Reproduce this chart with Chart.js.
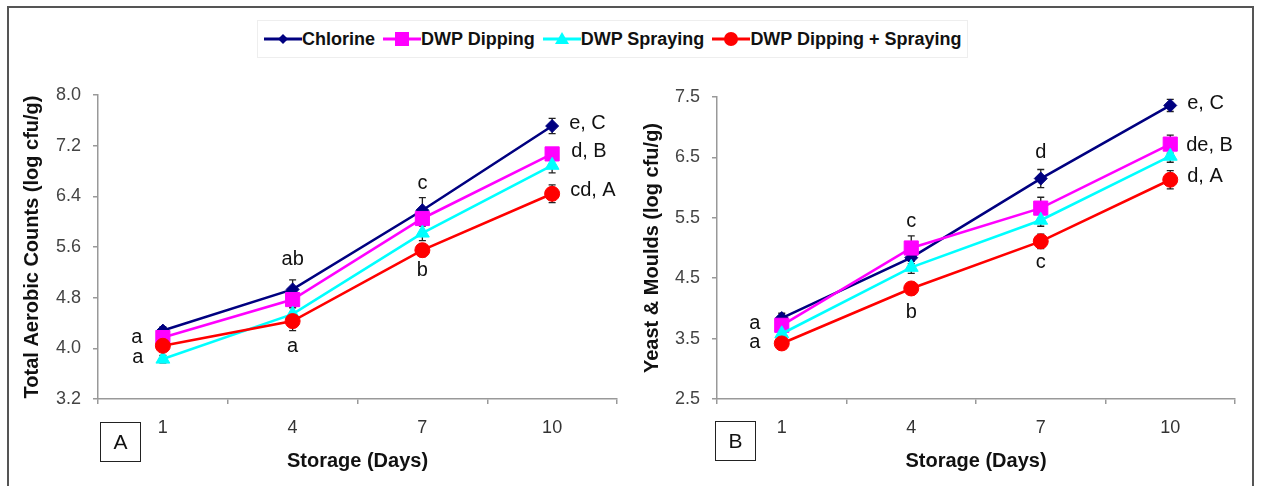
<!DOCTYPE html>
<html>
<head>
<meta charset="utf-8">
<script src="https://cdn.jsdelivr.net/npm/chart.js@4/dist/chart.umd.min.js"></script>
<style>
  body { margin: 0; background: #fff; font-family: "Liberation Sans", Arial, sans-serif; }
  #page { position: relative; width: 1261px; height: 486px; overflow: hidden; background: #fff; }
  #frame { position: absolute; left: 7px; top: 6px; width: 1243px; height: 520px; border: 2px solid #555; }
  #legend { position: absolute; left: 257px; top: 20px; width: 711px; height: 38px; border: 1px solid #eee;
            display: flex; align-items: center; padding-left: 6px; box-sizing: border-box; white-space: nowrap; }
  .item { display: flex; align-items: center; flex-shrink: 0; margin-right: 8px; font-weight: bold; font-size: 18px; color: #111; }
  .item svg { flex-shrink: 0; }
  canvas { position: absolute; }
  .tag { position: absolute; width: 39px; height: 38px; border: 1px solid #222; font-size: 21px; color: #111;
         display: flex; align-items: center; justify-content: center; }
</style>
</head>
<body>
<div id="page">
  <div id="frame"></div>
  <div id="legend"></div>
  <canvas id="chartA" width="620" height="426" style="left:10px;top:60px"></canvas>
  <canvas id="chartB" width="623" height="426" style="left:630px;top:60px"></canvas>
  <div class="tag" style="left:100px;top:422px">A</div>
  <div class="tag" style="left:715px;top:421px">B</div>
</div>
<script>
// categories
const days = ['1', '4', '7', '10'];
const seriesNames = ['Chlorine', 'DWP Dipping', 'DWP Spraying', 'DWP Dipping + Spraying'];
const seriesColors = ['#000080', '#FF00FF', '#00FFFF', '#FF0000'];
const pointStyles = ['rectRot', 'rect', 'triangle', 'circle'];
const pointSizes = [6.5, 10, 8, 7.5];

// A: total aerobic counts (log cfu/g)
const aerobicChlorine = [4.28, 4.93, 6.18, 7.51];
const aerobicDipping = [4.17, 4.77, 6.05, 7.07];
const aerobicSpraying = [3.83, 4.54, 5.82, 6.89];
const aerobicBoth = [4.04, 4.43, 5.55, 6.44];
const aerobicErrChlorine = [0.06, 0.15, 0.2, 0.12];
const aerobicErrDipping = [0.08, 0.12, 0.12, 0.1];
const aerobicErrSpraying = [0.06, 0.1, 0.12, 0.12];
const aerobicErrBoth = [0.08, 0.15, 0.1, 0.14];
const aerobicTicks = [3.2, 4.0, 4.8, 5.6, 6.4, 7.2, 8.0];

// B: yeast & moulds (log cfu/g)
const yeastChlorine = [3.84, 4.84, 6.15, 7.36];
const yeastDipping = [3.72, 5.0, 5.66, 6.72];
const yeastSpraying = [3.58, 4.68, 5.46, 6.52];
const yeastBoth = [3.42, 4.33, 5.11, 6.13];
const yeastErrChlorine = [0.08, 0.1, 0.15, 0.1];
const yeastErrDipping = [0.08, 0.2, 0.18, 0.15];
const yeastErrSpraying = [0.06, 0.1, 0.1, 0.1];
const yeastErrBoth = [0.08, 0.1, 0.12, 0.15];
const yeastTicks = [2.5, 3.5, 4.5, 5.5, 6.5, 7.5];

// significance letters: series index, day index, text, placement
const aerobicNotes = [
  { s: 1, d: 0, text: 'a', dx: -26, dy: 0, align: 'center' },
  { s: 2, d: 0, text: 'a', dx: -25, dy: -2, align: 'center' },
  { s: 0, d: 1, text: 'ab', dx: 0, dy: -30, align: 'center' },
  { s: 3, d: 1, text: 'a', dx: 0, dy: 25, align: 'center' },
  { s: 0, d: 2, text: 'c', dx: 0, dy: -27, align: 'center' },
  { s: 3, d: 2, text: 'b', dx: 0, dy: 20, align: 'center' },
  { s: 0, d: 3, text: 'e, C', dx: 17, dy: -3, align: 'left' },
  { s: 1, d: 3, text: 'd, B', dx: 19, dy: -2, align: 'left' },
  { s: 3, d: 3, text: 'cd, A', dx: 18, dy: -3, align: 'left' }
];
const yeastNotes = [
  { s: 1, d: 0, text: 'a', dx: -27, dy: -2, align: 'center' },
  { s: 3, d: 0, text: 'a', dx: -27, dy: -1, align: 'center' },
  { s: 1, d: 1, text: 'c', dx: 0, dy: -27, align: 'center' },
  { s: 3, d: 1, text: 'b', dx: 0, dy: 24, align: 'center' },
  { s: 0, d: 2, text: 'd', dx: 0, dy: -26, align: 'center' },
  { s: 3, d: 2, text: 'c', dx: 0, dy: 21, align: 'center' },
  { s: 0, d: 3, text: 'e, C', dx: 17, dy: -2, align: 'left' },
  { s: 1, d: 3, text: 'de, B', dx: 16, dy: 1, align: 'left' },
  { s: 3, d: 3, text: 'd, A', dx: 17, dy: -3, align: 'left' }
];

const FONT = '"Liberation Sans", Arial, sans-serif';

// legend (shared by both panels)
function markerSvg(i) {
  const c = seriesColors[i];
  let shape = '';
  if (i === 0) shape = `<polygon points="19,3 24,8 19,13 14,8" fill="${c}"/>`;
  if (i === 1) shape = `<rect x="12" y="1" width="14" height="14" fill="${c}"/>`;
  if (i === 2) shape = `<polygon points="19,1 26,13 12,13" fill="${c}"/>`;
  if (i === 3) shape = `<circle cx="19" cy="8" r="7" fill="${c}"/>`;
  return `<svg width="38" height="16"><line x1="0" y1="8" x2="38" y2="8" stroke="${c}" stroke-width="3"/>${shape}</svg>`;
}
const legend = document.getElementById('legend');
seriesNames.forEach((name, i) => {
  const item = document.createElement('div');
  item.className = 'item';
  item.innerHTML = markerSvg(i) + '<span>' + name + '</span>';
  legend.appendChild(item);
});

function extrasPlugin(errors, notes) {
  return {
    id: 'extras',
    beforeDatasetsDraw(chart) {
      const ctx = chart.ctx, x = chart.scales.x, y = chart.scales.y;
      ctx.save();
      ctx.strokeStyle = '#222';
      ctx.lineWidth = 1.3;
      chart.data.datasets.forEach((ds, i) => {
        ds.data.forEach((v, j) => {
          const px = x.getPixelForValue(j);
          const top = y.getPixelForValue(v + errors[i][j]);
          const bot = y.getPixelForValue(v - errors[i][j]);
          ctx.beginPath();
          ctx.moveTo(px, top); ctx.lineTo(px, bot);
          ctx.moveTo(px - 3.5, top); ctx.lineTo(px + 3.5, top);
          ctx.moveTo(px - 3.5, bot); ctx.lineTo(px + 3.5, bot);
          ctx.stroke();
        });
      });
      ctx.restore();
    },
    afterDatasetsDraw(chart) {
      const ctx = chart.ctx, x = chart.scales.x, y = chart.scales.y;
      ctx.save();
      ctx.font = '20px ' + FONT;
      ctx.fillStyle = '#111';
      ctx.textBaseline = 'middle';
      notes.forEach(n => {
        const v = chart.data.datasets[n.s].data[n.d];
        ctx.textAlign = n.align;
        ctx.fillText(n.text, x.getPixelForValue(n.d) + n.dx, y.getPixelForValue(v) + n.dy);
      });
      ctx.restore();
    }
  };
}

function buildChart(id, series, errors, ticks, yTitle, notes, pad) {
  const datasets = series.map((data, i) => ({
    label: seriesNames[i],
    data: data,
    borderColor: seriesColors[i],
    backgroundColor: seriesColors[i],
    pointStyle: pointStyles[i],
    pointRadius: pointSizes[i],
    pointHoverRadius: pointSizes[i],
    pointBorderWidth: 1,
    borderWidth: 2.6,
    tension: 0,
    order: 3 - i
  }));
  new Chart(document.getElementById(id), {
    type: 'line',
    data: { labels: days, datasets: datasets },
    options: {
      responsive: false,
      animation: false,
      devicePixelRatio: 1,
      layout: { padding: { top: pad.top, right: pad.right, left: 0, bottom: 0 } },
      plugins: { legend: { display: false }, tooltip: { enabled: false } },
      scales: {
        x: {
          offset: true,
          grid: { offset: true, drawOnChartArea: false, tickLength: 5, color: '#999', lineWidth: 1.5 },
          border: { color: '#999', width: 1.5 },
          ticks: { color: '#333', padding: 13, font: { family: FONT, size: 18 } },
          title: { display: true, text: 'Storage (Days)', color: '#111',
                   font: { family: FONT, size: 20, weight: 'bold' }, padding: { top: 0, bottom: 13 } },
          afterFit: s => { s.height = 87; }
        },
        y: {
          min: ticks[0],
          max: ticks[ticks.length - 1],
          afterBuildTicks: s => { s.ticks = ticks.map(v => ({ value: v })); },
          grid: { drawOnChartArea: false, tickLength: 5, color: '#999', lineWidth: 1.5 },
          border: { color: '#999', width: 1.5 },
          ticks: { color: '#444', padding: 12, font: { family: FONT, size: 18 },
                   callback: v => Number(v).toFixed(1) },
          title: { display: true, text: yTitle, color: '#111',
                   font: { family: FONT, size: 20, weight: 'bold' }, padding: { top: 10, bottom: 0 } },
          afterFit: s => { s.width = pad.axis; }
        }
      }
    },
    plugins: [extrasPlugin(errors, notes)]
  });
}

buildChart('chartA',
  [aerobicChlorine, aerobicDipping, aerobicSpraying, aerobicBoth],
  [aerobicErrChlorine, aerobicErrDipping, aerobicErrSpraying, aerobicErrBoth],
  aerobicTicks, 'Total Aerobic Counts (log cfu/g)', aerobicNotes,
  { top: 35, right: 13, axis: 88 });

buildChart('chartB',
  [yeastChlorine, yeastDipping, yeastSpraying, yeastBoth],
  [yeastErrChlorine, yeastErrDipping, yeastErrSpraying, yeastErrBoth],
  yeastTicks, 'Yeast & Moulds (log cfu/g)', yeastNotes,
  { top: 37, right: 18, axis: 87 });
</script>
</body>
</html>
